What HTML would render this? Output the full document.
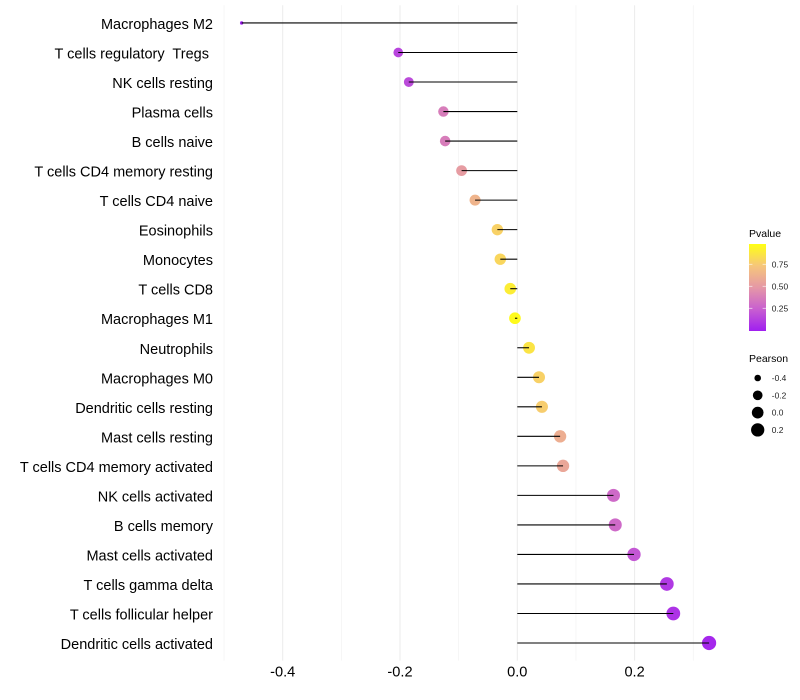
<!DOCTYPE html>
<html lang="en">
<head>
<meta charset="utf-8">
<title>Immune cell correlation lollipop chart</title>
<style>
html,body{margin:0;padding:0;background:#fff;}
svg{display:block;font-family:"Liberation Sans",Arial,sans-serif;}
</style>
</head>
<body>
<svg id="chart" xmlns="http://www.w3.org/2000/svg" width="800" height="700" viewBox="0 0 800 700">
  <defs>
    <linearGradient id="pvalue-gradient" x1="0" y1="1" x2="0" y2="0">
      <stop offset="0" stop-color="#a01ff0"/>
      <stop offset="0.25" stop-color="#c85fd0"/>
      <stop offset="0.5" stop-color="#e598a6"/>
      <stop offset="0.75" stop-color="#f6c67a"/>
      <stop offset="1" stop-color="#ffff14"/>
    </linearGradient>
  </defs>
  <rect width="800" height="700" fill="#ffffff"/>
  <g id="grid"></g>
  <g id="dots"></g>
  <g id="stems"></g>
  <g id="ylabels"></g>
  <g id="xlabels"></g>
  <g id="legend-color">
    <text x="749" y="237" font-size="10.5" fill="#000">Pvalue</text>
    <rect x="749" y="244" width="17" height="87" fill="url(#pvalue-gradient)"/>
  </g>
  <g id="legend-size">
    <text x="749" y="362" font-size="10.5" fill="#000">Pearson</text>
  </g>
</svg>
<script>
const categories = ["Macrophages M2","T cells regulatory  Tregs ","NK cells resting","Plasma cells","B cells naive","T cells CD4 memory resting","T cells CD4 naive","Eosinophils","Monocytes","T cells CD8","Macrophages M1","Neutrophils","Macrophages M0","Dendritic cells resting","Mast cells resting","T cells CD4 memory activated","NK cells activated","B cells memory","Mast cells activated","T cells gamma delta","T cells follicular helper","Dendritic cells activated"];
const pearson = [-0.47,-0.203,-0.185,-0.126,-0.123,-0.095,-0.072,-0.034,-0.029,-0.012,-0.004,0.02,0.037,0.042,0.073,0.078,0.164,0.167,0.199,0.255,0.266,0.327];
const pvalue = [0.0,0.15,0.17,0.38,0.38,0.52,0.65,0.8,0.82,0.92,0.98,0.88,0.8,0.78,0.62,0.58,0.3,0.3,0.22,0.1,0.08,0.03];
const xTicks = [-0.4,-0.2,0.0,0.2];
const xMinorTicks = [-0.5,-0.3,-0.1,0.1,0.3];
const pvalueTicks = [0.25,0.5,0.75];
const pearsonLegend = [-0.4,-0.2,0.0,0.2];
const colorStops = [[160,31,240],[200,95,208],[229,152,166],[246,198,122],[255,255,20]];

const NS = "http://www.w3.org/2000/svg";
const X_ZERO = 517.3, X_UNIT = 586.5;
const Y_FIRST = 22.97, Y_STEP = 29.526;
const PANEL_TOP = 5.3, PANEL_BOTTOM = 660.6;
const xScale = v => X_ZERO + v * X_UNIT;
const yScale = i => Y_FIRST + i * Y_STEP;
const pMin = Math.min(...pearson), pMax = Math.max(...pearson);
const radius = v => 1.7 + 5.4 * Math.sqrt(Math.max(0, (v - pMin) / (pMax - pMin)));
const colorScale = p => {
  const t = Math.max(0, Math.min(1, p)) * (colorStops.length - 1);
  const k = Math.min(Math.floor(t), colorStops.length - 2);
  const f = t - k;
  const c = colorStops[k].map((a, j) => Math.round(a + (colorStops[k + 1][j] - a) * f));
  return "rgb(" + c.join(",") + ")";
};
const legendY = v => 330.3 - v * 88;
const make = (tag, attrs, parent, text) => {
  const el = document.createElementNS(NS, tag);
  for (const k in attrs) el.setAttribute(k, attrs[k]);
  if (text !== undefined) {
    el.textContent = text;
    el.setAttribute("xml:space", "preserve");
    el.style.whiteSpace = "pre";
  }
  parent.appendChild(el);
  return el;
};
const fmt = v => v.toFixed(1);

const grid = document.getElementById("grid");
const dots = document.getElementById("dots");
const stems = document.getElementById("stems");
const ylabels = document.getElementById("ylabels");
const xlabels = document.getElementById("xlabels");
const legendColor = document.getElementById("legend-color");
const legendSize = document.getElementById("legend-size");

xMinorTicks.forEach(v => {
  const el = make("line", {x1: xScale(v), x2: xScale(v), y1: PANEL_TOP, y2: PANEL_BOTTOM, stroke: "#f0f0f0", "stroke-width": 0.6}, grid);
  
  
});
xTicks.forEach(v => {
  const el = make("line", {x1: xScale(v), x2: xScale(v), y1: PANEL_TOP, y2: PANEL_BOTTOM, stroke: "#ebebeb", "stroke-width": 1}, grid);
  
  
  const t = make("text", {x: xScale(v), y: 676.5, "font-size": 14.6, "text-anchor": "middle", fill: "#000"}, xlabels, fmt(v));
  
  
});

categories.forEach((name, i) => {
  const y = yScale(i);
  const dot = make("circle", {cx: xScale(pearson[i]), cy: y, r: radius(pearson[i]), fill: colorScale(pvalue[i])}, dots);
  
  
  const stem = make("line", {x1: xScale(0), x2: xScale(pearson[i]), y1: y, y2: y, stroke: "#000", "stroke-width": 1.07}, stems);
  
  
  const label = make("text", {x: 213, y: y + 6, "font-size": 14.5, "text-anchor": "end", fill: "#000"}, ylabels, name);
  
  
});

pvalueTicks.forEach(v => {
  const y = legendY(v);
  const left = make("line", {x1: 749, x2: 752.4, y1: y, y2: y, stroke: "#fff", "stroke-opacity": 0.75, "stroke-width": 0.8}, legendColor);
  
  
  const right = make("line", {x1: 762.6, x2: 766, y1: y, y2: y, stroke: "#fff", "stroke-opacity": 0.75, "stroke-width": 0.8}, legendColor);
  
  
  const t = make("text", {x: 771.8, y: y + 3, "font-size": 8.4, fill: "#222"}, legendColor, v.toFixed(2));
  
  
});

pearsonLegend.forEach((v, i) => {
  const y = 378 + i * 17.3;
  const c = make("circle", {cx: 757.7, cy: y, r: radius(v), fill: "#000"}, legendSize);
  
  
  const t = make("text", {x: 771.8, y: y + 3, "font-size": 8.4, fill: "#222"}, legendSize, fmt(v));
  
  
});
</script>
</body>
</html>
